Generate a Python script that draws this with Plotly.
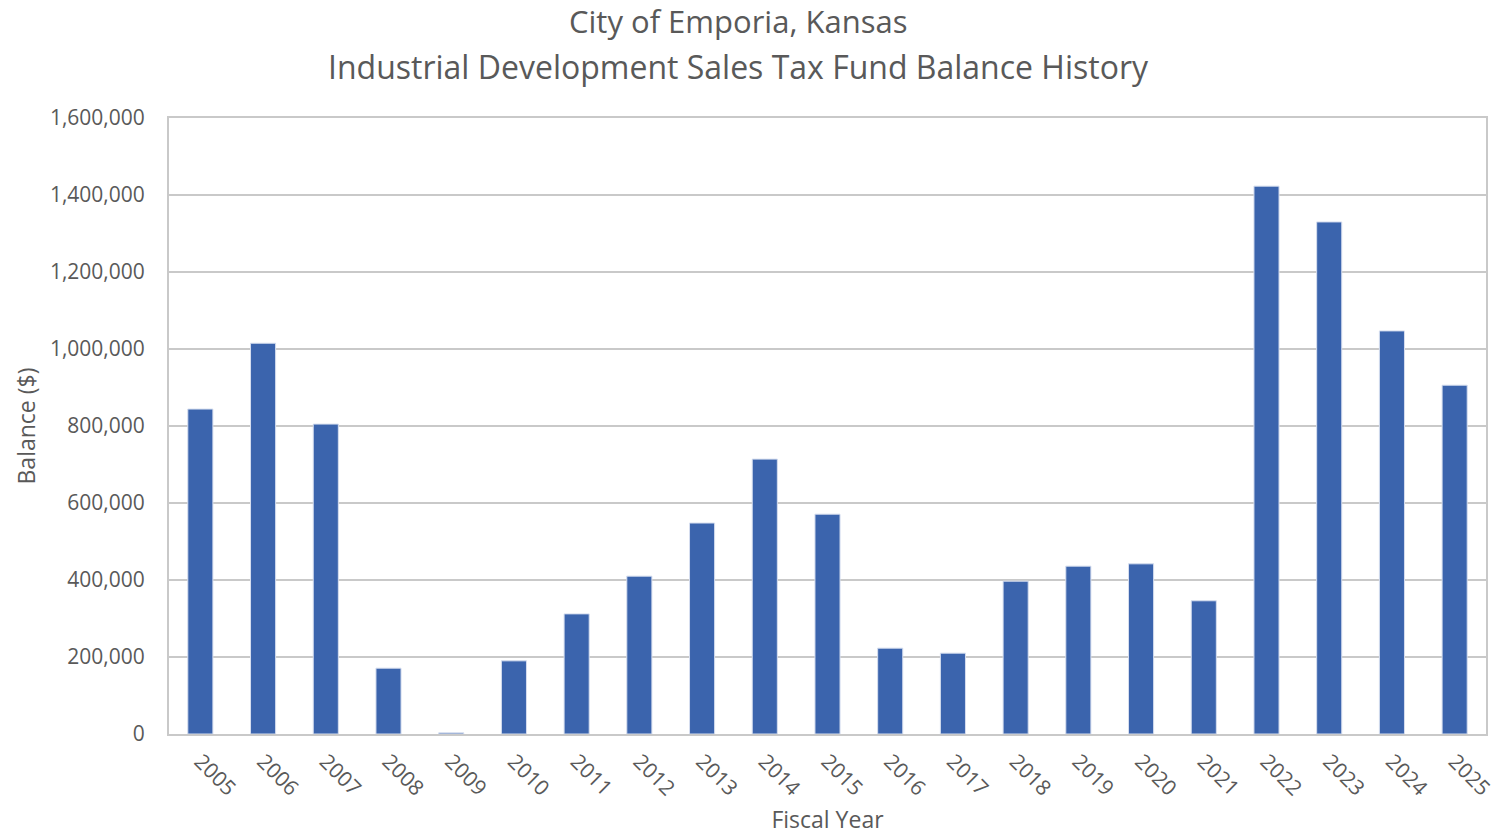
import plotly.graph_objects as go

years = [str(y) for y in range(2005, 2026)]
balances = [844000, 1015000, 805000, 171000, 3000, 190000, 312000, 410000, 548000,
            714000, 571000, 223000, 210000, 397000, 436000, 442000, 346000,
            1423000, 1330000, 1047000, 906000]

title_line1 = "City of Emporia, Kansas"
title_line2 = "Industrial Development Sales Tax Fund Balance History"
x_title = "Fiscal Year"
y_title = "Balance ($)"

FONT = "Open Sans"
GRAY = "#595959"
GRID = "#C9C9C9"

# plot area target on screen: x 169..1486, y 118..734
fig = go.Figure(go.Bar(
    x=years, y=balances,
    marker=dict(color="#3B64AD", line=dict(color="#D6DEEF", width=1)),
    hovertemplate="%{x}: %{y:,}<extra></extra>",
))

PLOT_H = 616
TX = (738 - 169) / 1317
fig.update_layout(
    width=1511, height=835,
    margin=dict(l=169, r=25, t=118, b=101),
    paper_bgcolor="white", plot_bgcolor="white",
    bargap=0.6, showlegend=False,
    font=dict(family=FONT, color=GRAY, size=21),
    annotations=[
        dict(text=title_line1, x=TX, xref="paper", y=(734 - 21) / PLOT_H, yref="paper",
             xanchor="center", yanchor="middle", showarrow=False,
             font=dict(family=FONT, size=31, color=GRAY)),
        dict(text=title_line2, x=TX, xref="paper", y=(734 - 67) / PLOT_H, yref="paper",
             xanchor="center", yanchor="middle", showarrow=False,
             font=dict(family=FONT, size=32, color=GRAY)),
    ],
)

fig.update_xaxes(
    type="category", tickangle=45, automargin=False,
    title=dict(text=x_title, font=dict(size=23, color=GRAY), standoff=12),
    showline=True, linecolor=GRID, linewidth=2, mirror=True,
    ticks="outside", ticklen=5, tickcolor="rgba(0,0,0,0)", showgrid=False,
    tickfont=dict(size=21, color=GRAY),
)
fig.update_yaxes(
    range=[0, 1600000], dtick=200000, tickformat=",", automargin=False,
    title=dict(text=y_title, font=dict(size=23, color=GRAY), standoff=8),
    showline=True, linecolor=GRID, linewidth=2, mirror=True,
    showgrid=True, gridcolor=GRID, gridwidth=1.5,
    zeroline=False, ticks="outside", ticklen=18, tickcolor="rgba(0,0,0,0)",
    tickfont=dict(size=21, color=GRAY),
)

fig.write_html("out.html", config={"displayModeBar": False},
               post_script="document.body.style.margin='0';")
